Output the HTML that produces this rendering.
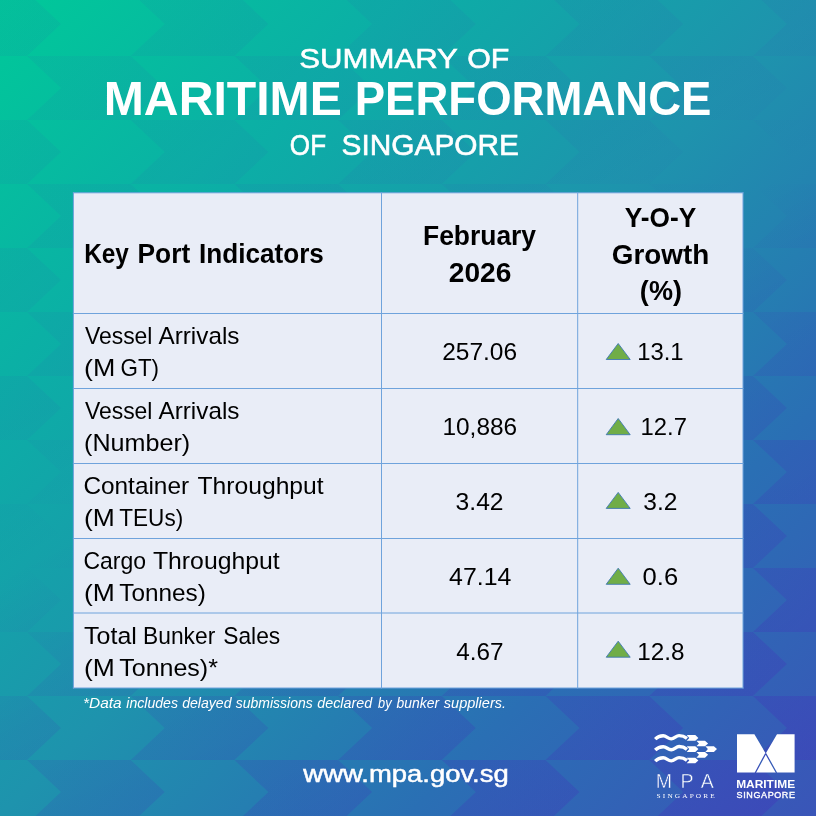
<!DOCTYPE html>
<html lang="en">
<head>
<meta charset="utf-8">
<title>Summary of Maritime Performance of Singapore</title>
<style>
html,body{margin:0;padding:0;background:#1C8FAE;}
body{width:816px;height:816px;overflow:hidden;font-family:"Liberation Sans",sans-serif;}
svg{display:block;}
text{white-space:pre;}
</style>
</head>
<body>
<svg width="816" height="816" viewBox="0 0 816 816">
<defs>
<linearGradient id="bg" gradientUnits="userSpaceOnUse" x1="0" y1="0" x2="816" y2="816">
<stop offset="0" stop-color="#00C999"/>
<stop offset="0.25" stop-color="#0CAEA6"/>
<stop offset="0.5" stop-color="#1E93AD"/>
<stop offset="0.75" stop-color="#2A6FB4"/>
<stop offset="1" stop-color="#3A55B8"/>
</linearGradient>
<linearGradient id="ovA" gradientUnits="userSpaceOnUse" x1="0" y1="0" x2="505" y2="976.8">
<stop offset="0" stop-color="#5000BE" stop-opacity="0.045"/>
<stop offset="0.35" stop-color="#5000BE" stop-opacity="0.04"/>
<stop offset="0.465" stop-color="#5000BE" stop-opacity="0"/>
<stop offset="1" stop-color="#5000BE" stop-opacity="0"/>
</linearGradient>
<linearGradient id="ovB" gradientUnits="userSpaceOnUse" x1="0" y1="0" x2="505" y2="976.8">
<stop offset="0" stop-color="#5000BE" stop-opacity="0"/>
<stop offset="0.465" stop-color="#5000BE" stop-opacity="0"/>
<stop offset="0.6" stop-color="#5000BE" stop-opacity="0.08"/>
<stop offset="0.75" stop-color="#5000BE" stop-opacity="0.125"/>
<stop offset="1" stop-color="#5000BE" stop-opacity="0.16"/>
</linearGradient>
<mask id="mcut" maskUnits="userSpaceOnUse" x="730" y="730" width="70" height="50">
<rect x="730" y="730" width="70" height="50" fill="#fff"/>
<path d="M765.7,753.5 L755.2,773 M765.7,753.5 L776.6,773" stroke="#000" stroke-width="1.3" fill="none"/>
</mask>
</defs>
<rect width="816" height="816" fill="url(#bg)"/>
<g fill="url(#ovA)">
<polygon points="27.0,-8.0 61.0,24.0 27.0,56.0 -76.7,56.0 -42.7,24.0 -76.7,-8.0"/>
<polygon points="234.4,-8.0 268.4,24.0 234.4,56.0 130.7,56.0 164.7,24.0 130.7,-8.0"/>
<polygon points="441.8,-8.0 475.8,24.0 441.8,56.0 338.1,56.0 372.1,24.0 338.1,-8.0"/>
<polygon points="649.2,-8.0 683.2,24.0 649.2,56.0 545.5,56.0 579.5,24.0 545.5,-8.0"/>
<polygon points="856.6,-8.0 890.6,24.0 856.6,56.0 752.9,56.0 786.9,24.0 752.9,-8.0"/>
<polygon points="-76.7,56.0 -42.7,88.0 -76.7,120.0 -180.4,120.0 -146.4,88.0 -180.4,56.0"/>
<polygon points="130.7,56.0 164.7,88.0 130.7,120.0 27.0,120.0 61.0,88.0 27.0,56.0"/>
<polygon points="338.1,56.0 372.1,88.0 338.1,120.0 234.4,120.0 268.4,88.0 234.4,56.0"/>
<polygon points="545.5,56.0 579.5,88.0 545.5,120.0 441.8,120.0 475.8,88.0 441.8,56.0"/>
<polygon points="752.9,56.0 786.9,88.0 752.9,120.0 649.2,120.0 683.2,88.0 649.2,56.0"/>
<polygon points="960.3,56.0 994.3,88.0 960.3,120.0 856.6,120.0 890.6,88.0 856.6,56.0"/>
<polygon points="27.0,120.0 61.0,152.0 27.0,184.0 -76.7,184.0 -42.7,152.0 -76.7,120.0"/>
<polygon points="234.4,120.0 268.4,152.0 234.4,184.0 130.7,184.0 164.7,152.0 130.7,120.0"/>
<polygon points="441.8,120.0 475.8,152.0 441.8,184.0 338.1,184.0 372.1,152.0 338.1,120.0"/>
<polygon points="649.2,120.0 683.2,152.0 649.2,184.0 545.5,184.0 579.5,152.0 545.5,120.0"/>
<polygon points="856.6,120.0 890.6,152.0 856.6,184.0 752.9,184.0 786.9,152.0 752.9,120.0"/>
<polygon points="-76.7,184.0 -42.7,216.0 -76.7,248.0 -180.4,248.0 -146.4,216.0 -180.4,184.0"/>
<polygon points="130.7,184.0 164.7,216.0 130.7,248.0 27.0,248.0 61.0,216.0 27.0,184.0"/>
<polygon points="338.1,184.0 372.1,216.0 338.1,248.0 234.4,248.0 268.4,216.0 234.4,184.0"/>
<polygon points="545.5,184.0 579.5,216.0 545.5,248.0 441.8,248.0 475.8,216.0 441.8,184.0"/>
<polygon points="752.9,184.0 786.9,216.0 752.9,248.0 649.2,248.0 683.2,216.0 649.2,184.0"/>
<polygon points="960.3,184.0 994.3,216.0 960.3,248.0 856.6,248.0 890.6,216.0 856.6,184.0"/>
<polygon points="27.0,248.0 61.0,280.0 27.0,312.0 -76.7,312.0 -42.7,280.0 -76.7,248.0"/>
<polygon points="234.4,248.0 268.4,280.0 234.4,312.0 130.7,312.0 164.7,280.0 130.7,248.0"/>
<polygon points="441.8,248.0 475.8,280.0 441.8,312.0 338.1,312.0 372.1,280.0 338.1,248.0"/>
<polygon points="649.2,248.0 683.2,280.0 649.2,312.0 545.5,312.0 579.5,280.0 545.5,248.0"/>
<polygon points="856.6,248.0 890.6,280.0 856.6,312.0 752.9,312.0 786.9,280.0 752.9,248.0"/>
<polygon points="-76.7,312.0 -42.7,344.0 -76.7,376.0 -180.4,376.0 -146.4,344.0 -180.4,312.0"/>
<polygon points="130.7,312.0 164.7,344.0 130.7,376.0 27.0,376.0 61.0,344.0 27.0,312.0"/>
<polygon points="338.1,312.0 372.1,344.0 338.1,376.0 234.4,376.0 268.4,344.0 234.4,312.0"/>
<polygon points="545.5,312.0 579.5,344.0 545.5,376.0 441.8,376.0 475.8,344.0 441.8,312.0"/>
<polygon points="752.9,312.0 786.9,344.0 752.9,376.0 649.2,376.0 683.2,344.0 649.2,312.0"/>
<polygon points="960.3,312.0 994.3,344.0 960.3,376.0 856.6,376.0 890.6,344.0 856.6,312.0"/>
<polygon points="27.0,376.0 61.0,408.0 27.0,440.0 -76.7,440.0 -42.7,408.0 -76.7,376.0"/>
<polygon points="234.4,376.0 268.4,408.0 234.4,440.0 130.7,440.0 164.7,408.0 130.7,376.0"/>
<polygon points="441.8,376.0 475.8,408.0 441.8,440.0 338.1,440.0 372.1,408.0 338.1,376.0"/>
<polygon points="649.2,376.0 683.2,408.0 649.2,440.0 545.5,440.0 579.5,408.0 545.5,376.0"/>
<polygon points="856.6,376.0 890.6,408.0 856.6,440.0 752.9,440.0 786.9,408.0 752.9,376.0"/>
<polygon points="-76.7,440.0 -42.7,472.0 -76.7,504.0 -180.4,504.0 -146.4,472.0 -180.4,440.0"/>
<polygon points="130.7,440.0 164.7,472.0 130.7,504.0 27.0,504.0 61.0,472.0 27.0,440.0"/>
<polygon points="338.1,440.0 372.1,472.0 338.1,504.0 234.4,504.0 268.4,472.0 234.4,440.0"/>
<polygon points="545.5,440.0 579.5,472.0 545.5,504.0 441.8,504.0 475.8,472.0 441.8,440.0"/>
<polygon points="752.9,440.0 786.9,472.0 752.9,504.0 649.2,504.0 683.2,472.0 649.2,440.0"/>
<polygon points="960.3,440.0 994.3,472.0 960.3,504.0 856.6,504.0 890.6,472.0 856.6,440.0"/>
<polygon points="27.0,504.0 61.0,536.0 27.0,568.0 -76.7,568.0 -42.7,536.0 -76.7,504.0"/>
<polygon points="234.4,504.0 268.4,536.0 234.4,568.0 130.7,568.0 164.7,536.0 130.7,504.0"/>
<polygon points="441.8,504.0 475.8,536.0 441.8,568.0 338.1,568.0 372.1,536.0 338.1,504.0"/>
<polygon points="649.2,504.0 683.2,536.0 649.2,568.0 545.5,568.0 579.5,536.0 545.5,504.0"/>
<polygon points="856.6,504.0 890.6,536.0 856.6,568.0 752.9,568.0 786.9,536.0 752.9,504.0"/>
<polygon points="-76.7,568.0 -42.7,600.0 -76.7,632.0 -180.4,632.0 -146.4,600.0 -180.4,568.0"/>
<polygon points="130.7,568.0 164.7,600.0 130.7,632.0 27.0,632.0 61.0,600.0 27.0,568.0"/>
<polygon points="338.1,568.0 372.1,600.0 338.1,632.0 234.4,632.0 268.4,600.0 234.4,568.0"/>
<polygon points="545.5,568.0 579.5,600.0 545.5,632.0 441.8,632.0 475.8,600.0 441.8,568.0"/>
<polygon points="752.9,568.0 786.9,600.0 752.9,632.0 649.2,632.0 683.2,600.0 649.2,568.0"/>
<polygon points="960.3,568.0 994.3,600.0 960.3,632.0 856.6,632.0 890.6,600.0 856.6,568.0"/>
<polygon points="27.0,632.0 61.0,664.0 27.0,696.0 -76.7,696.0 -42.7,664.0 -76.7,632.0"/>
<polygon points="234.4,632.0 268.4,664.0 234.4,696.0 130.7,696.0 164.7,664.0 130.7,632.0"/>
<polygon points="441.8,632.0 475.8,664.0 441.8,696.0 338.1,696.0 372.1,664.0 338.1,632.0"/>
<polygon points="649.2,632.0 683.2,664.0 649.2,696.0 545.5,696.0 579.5,664.0 545.5,632.0"/>
<polygon points="856.6,632.0 890.6,664.0 856.6,696.0 752.9,696.0 786.9,664.0 752.9,632.0"/>
<polygon points="-76.7,696.0 -42.7,728.0 -76.7,760.0 -180.4,760.0 -146.4,728.0 -180.4,696.0"/>
<polygon points="130.7,696.0 164.7,728.0 130.7,760.0 27.0,760.0 61.0,728.0 27.0,696.0"/>
<polygon points="338.1,696.0 372.1,728.0 338.1,760.0 234.4,760.0 268.4,728.0 234.4,696.0"/>
<polygon points="545.5,696.0 579.5,728.0 545.5,760.0 441.8,760.0 475.8,728.0 441.8,696.0"/>
<polygon points="752.9,696.0 786.9,728.0 752.9,760.0 649.2,760.0 683.2,728.0 649.2,696.0"/>
<polygon points="960.3,696.0 994.3,728.0 960.3,760.0 856.6,760.0 890.6,728.0 856.6,696.0"/>
<polygon points="27.0,760.0 61.0,792.0 27.0,824.0 -76.7,824.0 -42.7,792.0 -76.7,760.0"/>
<polygon points="234.4,760.0 268.4,792.0 234.4,824.0 130.7,824.0 164.7,792.0 130.7,760.0"/>
<polygon points="441.8,760.0 475.8,792.0 441.8,824.0 338.1,824.0 372.1,792.0 338.1,760.0"/>
<polygon points="649.2,760.0 683.2,792.0 649.2,824.0 545.5,824.0 579.5,792.0 545.5,760.0"/>
<polygon points="856.6,760.0 890.6,792.0 856.6,824.0 752.9,824.0 786.9,792.0 752.9,760.0"/>
<polygon points="-76.7,824.0 -42.7,856.0 -76.7,888.0 -180.4,888.0 -146.4,856.0 -180.4,824.0"/>
<polygon points="130.7,824.0 164.7,856.0 130.7,888.0 27.0,888.0 61.0,856.0 27.0,824.0"/>
<polygon points="338.1,824.0 372.1,856.0 338.1,888.0 234.4,888.0 268.4,856.0 234.4,824.0"/>
<polygon points="545.5,824.0 579.5,856.0 545.5,888.0 441.8,888.0 475.8,856.0 441.8,824.0"/>
<polygon points="752.9,824.0 786.9,856.0 752.9,888.0 649.2,888.0 683.2,856.0 649.2,824.0"/>
<polygon points="960.3,824.0 994.3,856.0 960.3,888.0 856.6,888.0 890.6,856.0 856.6,824.0"/>
</g>
<g fill="url(#ovB)">
<polygon points="-76.7,-8.0 -42.7,24.0 -76.7,56.0 -180.4,56.0 -146.4,24.0 -180.4,-8.0"/>
<polygon points="130.7,-8.0 164.7,24.0 130.7,56.0 27.0,56.0 61.0,24.0 27.0,-8.0"/>
<polygon points="338.1,-8.0 372.1,24.0 338.1,56.0 234.4,56.0 268.4,24.0 234.4,-8.0"/>
<polygon points="545.5,-8.0 579.5,24.0 545.5,56.0 441.8,56.0 475.8,24.0 441.8,-8.0"/>
<polygon points="752.9,-8.0 786.9,24.0 752.9,56.0 649.2,56.0 683.2,24.0 649.2,-8.0"/>
<polygon points="960.3,-8.0 994.3,24.0 960.3,56.0 856.6,56.0 890.6,24.0 856.6,-8.0"/>
<polygon points="27.0,56.0 61.0,88.0 27.0,120.0 -76.7,120.0 -42.7,88.0 -76.7,56.0"/>
<polygon points="234.4,56.0 268.4,88.0 234.4,120.0 130.7,120.0 164.7,88.0 130.7,56.0"/>
<polygon points="441.8,56.0 475.8,88.0 441.8,120.0 338.1,120.0 372.1,88.0 338.1,56.0"/>
<polygon points="649.2,56.0 683.2,88.0 649.2,120.0 545.5,120.0 579.5,88.0 545.5,56.0"/>
<polygon points="856.6,56.0 890.6,88.0 856.6,120.0 752.9,120.0 786.9,88.0 752.9,56.0"/>
<polygon points="-76.7,120.0 -42.7,152.0 -76.7,184.0 -180.4,184.0 -146.4,152.0 -180.4,120.0"/>
<polygon points="130.7,120.0 164.7,152.0 130.7,184.0 27.0,184.0 61.0,152.0 27.0,120.0"/>
<polygon points="338.1,120.0 372.1,152.0 338.1,184.0 234.4,184.0 268.4,152.0 234.4,120.0"/>
<polygon points="545.5,120.0 579.5,152.0 545.5,184.0 441.8,184.0 475.8,152.0 441.8,120.0"/>
<polygon points="752.9,120.0 786.9,152.0 752.9,184.0 649.2,184.0 683.2,152.0 649.2,120.0"/>
<polygon points="960.3,120.0 994.3,152.0 960.3,184.0 856.6,184.0 890.6,152.0 856.6,120.0"/>
<polygon points="27.0,184.0 61.0,216.0 27.0,248.0 -76.7,248.0 -42.7,216.0 -76.7,184.0"/>
<polygon points="234.4,184.0 268.4,216.0 234.4,248.0 130.7,248.0 164.7,216.0 130.7,184.0"/>
<polygon points="441.8,184.0 475.8,216.0 441.8,248.0 338.1,248.0 372.1,216.0 338.1,184.0"/>
<polygon points="649.2,184.0 683.2,216.0 649.2,248.0 545.5,248.0 579.5,216.0 545.5,184.0"/>
<polygon points="856.6,184.0 890.6,216.0 856.6,248.0 752.9,248.0 786.9,216.0 752.9,184.0"/>
<polygon points="-76.7,248.0 -42.7,280.0 -76.7,312.0 -180.4,312.0 -146.4,280.0 -180.4,248.0"/>
<polygon points="130.7,248.0 164.7,280.0 130.7,312.0 27.0,312.0 61.0,280.0 27.0,248.0"/>
<polygon points="338.1,248.0 372.1,280.0 338.1,312.0 234.4,312.0 268.4,280.0 234.4,248.0"/>
<polygon points="545.5,248.0 579.5,280.0 545.5,312.0 441.8,312.0 475.8,280.0 441.8,248.0"/>
<polygon points="752.9,248.0 786.9,280.0 752.9,312.0 649.2,312.0 683.2,280.0 649.2,248.0"/>
<polygon points="960.3,248.0 994.3,280.0 960.3,312.0 856.6,312.0 890.6,280.0 856.6,248.0"/>
<polygon points="27.0,312.0 61.0,344.0 27.0,376.0 -76.7,376.0 -42.7,344.0 -76.7,312.0"/>
<polygon points="234.4,312.0 268.4,344.0 234.4,376.0 130.7,376.0 164.7,344.0 130.7,312.0"/>
<polygon points="441.8,312.0 475.8,344.0 441.8,376.0 338.1,376.0 372.1,344.0 338.1,312.0"/>
<polygon points="649.2,312.0 683.2,344.0 649.2,376.0 545.5,376.0 579.5,344.0 545.5,312.0"/>
<polygon points="856.6,312.0 890.6,344.0 856.6,376.0 752.9,376.0 786.9,344.0 752.9,312.0"/>
<polygon points="-76.7,376.0 -42.7,408.0 -76.7,440.0 -180.4,440.0 -146.4,408.0 -180.4,376.0"/>
<polygon points="130.7,376.0 164.7,408.0 130.7,440.0 27.0,440.0 61.0,408.0 27.0,376.0"/>
<polygon points="338.1,376.0 372.1,408.0 338.1,440.0 234.4,440.0 268.4,408.0 234.4,376.0"/>
<polygon points="545.5,376.0 579.5,408.0 545.5,440.0 441.8,440.0 475.8,408.0 441.8,376.0"/>
<polygon points="752.9,376.0 786.9,408.0 752.9,440.0 649.2,440.0 683.2,408.0 649.2,376.0"/>
<polygon points="960.3,376.0 994.3,408.0 960.3,440.0 856.6,440.0 890.6,408.0 856.6,376.0"/>
<polygon points="27.0,440.0 61.0,472.0 27.0,504.0 -76.7,504.0 -42.7,472.0 -76.7,440.0"/>
<polygon points="234.4,440.0 268.4,472.0 234.4,504.0 130.7,504.0 164.7,472.0 130.7,440.0"/>
<polygon points="441.8,440.0 475.8,472.0 441.8,504.0 338.1,504.0 372.1,472.0 338.1,440.0"/>
<polygon points="649.2,440.0 683.2,472.0 649.2,504.0 545.5,504.0 579.5,472.0 545.5,440.0"/>
<polygon points="856.6,440.0 890.6,472.0 856.6,504.0 752.9,504.0 786.9,472.0 752.9,440.0"/>
<polygon points="-76.7,504.0 -42.7,536.0 -76.7,568.0 -180.4,568.0 -146.4,536.0 -180.4,504.0"/>
<polygon points="130.7,504.0 164.7,536.0 130.7,568.0 27.0,568.0 61.0,536.0 27.0,504.0"/>
<polygon points="338.1,504.0 372.1,536.0 338.1,568.0 234.4,568.0 268.4,536.0 234.4,504.0"/>
<polygon points="545.5,504.0 579.5,536.0 545.5,568.0 441.8,568.0 475.8,536.0 441.8,504.0"/>
<polygon points="752.9,504.0 786.9,536.0 752.9,568.0 649.2,568.0 683.2,536.0 649.2,504.0"/>
<polygon points="960.3,504.0 994.3,536.0 960.3,568.0 856.6,568.0 890.6,536.0 856.6,504.0"/>
<polygon points="27.0,568.0 61.0,600.0 27.0,632.0 -76.7,632.0 -42.7,600.0 -76.7,568.0"/>
<polygon points="234.4,568.0 268.4,600.0 234.4,632.0 130.7,632.0 164.7,600.0 130.7,568.0"/>
<polygon points="441.8,568.0 475.8,600.0 441.8,632.0 338.1,632.0 372.1,600.0 338.1,568.0"/>
<polygon points="649.2,568.0 683.2,600.0 649.2,632.0 545.5,632.0 579.5,600.0 545.5,568.0"/>
<polygon points="856.6,568.0 890.6,600.0 856.6,632.0 752.9,632.0 786.9,600.0 752.9,568.0"/>
<polygon points="-76.7,632.0 -42.7,664.0 -76.7,696.0 -180.4,696.0 -146.4,664.0 -180.4,632.0"/>
<polygon points="130.7,632.0 164.7,664.0 130.7,696.0 27.0,696.0 61.0,664.0 27.0,632.0"/>
<polygon points="338.1,632.0 372.1,664.0 338.1,696.0 234.4,696.0 268.4,664.0 234.4,632.0"/>
<polygon points="545.5,632.0 579.5,664.0 545.5,696.0 441.8,696.0 475.8,664.0 441.8,632.0"/>
<polygon points="752.9,632.0 786.9,664.0 752.9,696.0 649.2,696.0 683.2,664.0 649.2,632.0"/>
<polygon points="960.3,632.0 994.3,664.0 960.3,696.0 856.6,696.0 890.6,664.0 856.6,632.0"/>
<polygon points="27.0,696.0 61.0,728.0 27.0,760.0 -76.7,760.0 -42.7,728.0 -76.7,696.0"/>
<polygon points="234.4,696.0 268.4,728.0 234.4,760.0 130.7,760.0 164.7,728.0 130.7,696.0"/>
<polygon points="441.8,696.0 475.8,728.0 441.8,760.0 338.1,760.0 372.1,728.0 338.1,696.0"/>
<polygon points="649.2,696.0 683.2,728.0 649.2,760.0 545.5,760.0 579.5,728.0 545.5,696.0"/>
<polygon points="856.6,696.0 890.6,728.0 856.6,760.0 752.9,760.0 786.9,728.0 752.9,696.0"/>
<polygon points="-76.7,760.0 -42.7,792.0 -76.7,824.0 -180.4,824.0 -146.4,792.0 -180.4,760.0"/>
<polygon points="130.7,760.0 164.7,792.0 130.7,824.0 27.0,824.0 61.0,792.0 27.0,760.0"/>
<polygon points="338.1,760.0 372.1,792.0 338.1,824.0 234.4,824.0 268.4,792.0 234.4,760.0"/>
<polygon points="545.5,760.0 579.5,792.0 545.5,824.0 441.8,824.0 475.8,792.0 441.8,760.0"/>
<polygon points="752.9,760.0 786.9,792.0 752.9,824.0 649.2,824.0 683.2,792.0 649.2,760.0"/>
<polygon points="960.3,760.0 994.3,792.0 960.3,824.0 856.6,824.0 890.6,792.0 856.6,760.0"/>
<polygon points="27.0,824.0 61.0,856.0 27.0,888.0 -76.7,888.0 -42.7,856.0 -76.7,824.0"/>
<polygon points="234.4,824.0 268.4,856.0 234.4,888.0 130.7,888.0 164.7,856.0 130.7,824.0"/>
<polygon points="441.8,824.0 475.8,856.0 441.8,888.0 338.1,888.0 372.1,856.0 338.1,824.0"/>
<polygon points="649.2,824.0 683.2,856.0 649.2,888.0 545.5,888.0 579.5,856.0 545.5,824.0"/>
<polygon points="856.6,824.0 890.6,856.0 856.6,888.0 752.9,888.0 786.9,856.0 752.9,824.0"/>
</g>
<g id="table">
<rect x="73.4" y="192.8" width="669.6" height="495.2" fill="#E9EDF7"/>
<line x1="72.9" x2="743.5" y1="192.8" y2="192.8" stroke="#6FA3DC" stroke-width="1"/>
<line x1="72.9" x2="743.5" y1="313.5" y2="313.5" stroke="#6FA3DC" stroke-width="1"/>
<line x1="72.9" x2="743.5" y1="388.5" y2="388.5" stroke="#6FA3DC" stroke-width="1"/>
<line x1="72.9" x2="743.5" y1="463.5" y2="463.5" stroke="#6FA3DC" stroke-width="1"/>
<line x1="72.9" x2="743.5" y1="538.5" y2="538.5" stroke="#6FA3DC" stroke-width="1"/>
<line x1="72.9" x2="743.5" y1="613.0" y2="613.0" stroke="#6FA3DC" stroke-width="1"/>
<line x1="72.9" x2="743.5" y1="688.0" y2="688.0" stroke="#6FA3DC" stroke-width="1"/>
<line x1="73.4" x2="73.4" y1="192.3" y2="688.5" stroke="#6FA3DC" stroke-width="1"/>
<line x1="381.5" x2="381.5" y1="192.3" y2="688.5" stroke="#6FA3DC" stroke-width="1"/>
<line x1="577.7" x2="577.7" y1="192.3" y2="688.5" stroke="#6FA3DC" stroke-width="1"/>
<line x1="743.0" x2="743.0" y1="192.3" y2="688.5" stroke="#6FA3DC" stroke-width="1"/>
</g>
<g id="triangles">
<polygon points="606.2,359.5 630.2,359.5 618.2,343.5" fill="#70AD47" stroke="#3F78B4" stroke-width="0.9" stroke-linejoin="miter"/>
<polygon points="606.2,434.7 630.2,434.7 618.2,418.5" fill="#70AD47" stroke="#3F78B4" stroke-width="0.9" stroke-linejoin="miter"/>
<polygon points="606.2,508.4 630.2,508.4 618.2,492.4" fill="#70AD47" stroke="#3F78B4" stroke-width="0.9" stroke-linejoin="miter"/>
<polygon points="606.2,584.3 630.2,584.3 618.2,568.2" fill="#70AD47" stroke="#3F78B4" stroke-width="0.9" stroke-linejoin="miter"/>
<polygon points="606.2,657.2 630.2,657.2 618.2,641.2" fill="#70AD47" stroke="#3F78B4" stroke-width="0.9" stroke-linejoin="miter"/>
</g>
<g id="mpa-logo" fill="#fff">
<path d="M655.2,739.1 C657.5,736.8 660,735.8 663.2,735.8 C666.5,735.8 668,738.9 671.2,738.9 C674.5,738.9 676,735.6 679.1,735.6 C682,735.6 684.6,736.5 687,738.4" fill="none" stroke="#fff" stroke-width="3.4"/>
<path d="M655.2,750.0 C657.5,747.7 660,746.7 663.2,746.7 C666.5,746.7 668,749.8 671.2,749.8 C674.5,749.8 676,746.5 679.1,746.5 C682,746.5 684.6,747.4 687,749.3" fill="none" stroke="#fff" stroke-width="3.4"/>
<path d="M655.2,761.1 C657.5,758.8 660,757.8 663.2,757.8 C666.5,757.8 668,760.9 671.2,760.9 C674.5,760.9 676,757.6 679.1,757.6 C682,757.6 684.6,758.5 687,760.4" fill="none" stroke="#fff" stroke-width="3.4"/>
<polygon points="686.70,735.10 695.30,735.10 698.40,737.95 695.30,740.80 686.70,740.80 689.30,737.95"/>
<polygon points="696.40,740.65 705.00,740.65 708.10,743.50 705.00,746.35 696.40,746.35 699.00,743.50"/>
<polygon points="686.70,746.25 695.30,746.25 698.40,749.10 695.30,751.95 686.70,751.95 689.30,749.10"/>
<polygon points="705.30,746.25 713.90,746.25 717.00,749.10 713.90,751.95 705.30,751.95 707.90,749.10"/>
<polygon points="696.40,751.95 705.00,751.95 708.10,754.80 705.00,757.65 696.40,757.65 699.00,754.80"/>
<polygon points="686.70,757.65 695.30,757.65 698.40,760.50 695.30,763.35 686.70,763.35 689.30,760.50"/>
</g>
<g id="maritime-logo">
<path d="M737,734.3 H754.4 L765.7,753.5 L777,734.3 H794.6 V772.6 H737 Z" fill="#fff" mask="url(#mcut)"/>
</g>
<g id="texts">
<text y="68.20" font-family='"Liberation Sans", sans-serif' font-size="28.49" fill="#fff" stroke="#fff" stroke-width="0.6"><tspan x="299.34" textLength="157.94" lengthAdjust="spacingAndGlyphs">SUMMARY</tspan> <tspan x="467.16" textLength="42.14" lengthAdjust="spacingAndGlyphs">OF</tspan></text>
<text y="115.40" font-family='"Liberation Sans", sans-serif' font-size="48.98" fill="#fff" font-weight="bold"><tspan x="103.76" textLength="238.07" lengthAdjust="spacingAndGlyphs">MARITIME</tspan> <tspan x="354.73" textLength="356.71" lengthAdjust="spacingAndGlyphs">PERFORMANCE</tspan></text>
<text y="154.70" font-family='"Liberation Sans", sans-serif' font-size="29.36" fill="#fff" stroke="#fff" stroke-width="0.6"><tspan x="289.86" textLength="36.20" lengthAdjust="spacingAndGlyphs">OF</tspan> <tspan x="341.57" textLength="177.40" lengthAdjust="spacingAndGlyphs">SINGAPORE</tspan></text>
<text y="263.40" font-family='"Liberation Sans", sans-serif' font-size="28.49" fill="#000" font-weight="bold"><tspan x="84.27" textLength="44.59" lengthAdjust="spacingAndGlyphs">Key</tspan> <tspan x="137.54" textLength="52.69" lengthAdjust="spacingAndGlyphs">Port</tspan> <tspan x="199.05" textLength="124.82" lengthAdjust="spacingAndGlyphs">Indicators</tspan></text>
<text x="423.03" y="245.20" font-family='"Liberation Sans", sans-serif' font-size="28.49" fill="#000" font-weight="bold" textLength="113.05" lengthAdjust="spacingAndGlyphs">February</text>
<text x="448.81" y="282.30" font-family='"Liberation Sans", sans-serif' font-size="28.49" fill="#000" font-weight="bold" textLength="62.59" lengthAdjust="spacingAndGlyphs">2026</text>
<text x="624.76" y="226.50" font-family='"Liberation Sans", sans-serif' font-size="28.49" fill="#000" font-weight="bold" textLength="71.51" lengthAdjust="spacingAndGlyphs">Y-O-Y</text>
<text x="611.79" y="263.60" font-family='"Liberation Sans", sans-serif' font-size="28.49" fill="#000" font-weight="bold" textLength="97.49" lengthAdjust="spacingAndGlyphs">Growth</text>
<text x="639.86" y="299.90" font-family='"Liberation Sans", sans-serif' font-size="28.49" fill="#000" font-weight="bold" textLength="42.12" lengthAdjust="spacingAndGlyphs">(%)</text>
<text y="343.50" font-family='"Liberation Sans", sans-serif' font-size="24.27" fill="#000"><tspan x="84.89" textLength="67.57" lengthAdjust="spacingAndGlyphs">Vessel</tspan> <tspan x="158.48" textLength="81.00" lengthAdjust="spacingAndGlyphs">Arrivals</tspan></text>
<text y="375.70" font-family='"Liberation Sans", sans-serif' font-size="24.27" fill="#000"><tspan x="84.00" textLength="31.30" lengthAdjust="spacingAndGlyphs">(M</tspan> <tspan x="120.53" textLength="38.56" lengthAdjust="spacingAndGlyphs">GT)</tspan></text>
<text y="418.50" font-family='"Liberation Sans", sans-serif' font-size="24.27" fill="#000"><tspan x="84.89" textLength="67.57" lengthAdjust="spacingAndGlyphs">Vessel</tspan> <tspan x="158.48" textLength="81.00" lengthAdjust="spacingAndGlyphs">Arrivals</tspan></text>
<text x="84.11" y="450.70" font-family='"Liberation Sans", sans-serif' font-size="24.27" fill="#000" textLength="106.11" lengthAdjust="spacingAndGlyphs">(Number)</text>
<text y="493.50" font-family='"Liberation Sans", sans-serif' font-size="24.27" fill="#000"><tspan x="83.41" textLength="105.70" lengthAdjust="spacingAndGlyphs">Container</tspan> <tspan x="197.44" textLength="126.23" lengthAdjust="spacingAndGlyphs">Throughput</tspan></text>
<text y="525.70" font-family='"Liberation Sans", sans-serif' font-size="24.27" fill="#000"><tspan x="84.02" textLength="30.84" lengthAdjust="spacingAndGlyphs">(M</tspan> <tspan x="119.29" textLength="63.88" lengthAdjust="spacingAndGlyphs">TEUs)</tspan></text>
<text y="568.50" font-family='"Liberation Sans", sans-serif' font-size="24.27" fill="#000"><tspan x="83.49" textLength="62.62" lengthAdjust="spacingAndGlyphs">Cargo</tspan> <tspan x="152.94" textLength="126.74" lengthAdjust="spacingAndGlyphs">Throughput</tspan></text>
<text y="600.70" font-family='"Liberation Sans", sans-serif' font-size="24.27" fill="#000"><tspan x="84.02" textLength="30.84" lengthAdjust="spacingAndGlyphs">(M</tspan> <tspan x="119.25" textLength="86.53" lengthAdjust="spacingAndGlyphs">Tonnes)</tspan></text>
<text y="643.50" font-family='"Liberation Sans", sans-serif' font-size="24.27" fill="#000"><tspan x="84.13" textLength="52.79" lengthAdjust="spacingAndGlyphs">Total</tspan> <tspan x="143.12" textLength="72.12" lengthAdjust="spacingAndGlyphs">Bunker</tspan> <tspan x="223.22" textLength="56.96" lengthAdjust="spacingAndGlyphs">Sales</tspan></text>
<text y="675.70" font-family='"Liberation Sans", sans-serif' font-size="24.27" fill="#000"><tspan x="84.02" textLength="30.84" lengthAdjust="spacingAndGlyphs">(M</tspan> <tspan x="119.23" textLength="98.73" lengthAdjust="spacingAndGlyphs">Tonnes)*</tspan></text>
<text x="442.15" y="360.30" font-family='"Liberation Sans", sans-serif' font-size="23.69" fill="#000" textLength="74.91" lengthAdjust="spacingAndGlyphs">257.06</text>
<text x="442.45" y="435.30" font-family='"Liberation Sans", sans-serif' font-size="23.69" fill="#000" textLength="74.71" lengthAdjust="spacingAndGlyphs">10,886</text>
<text x="455.63" y="510.30" font-family='"Liberation Sans", sans-serif' font-size="23.69" fill="#000" textLength="47.94" lengthAdjust="spacingAndGlyphs">3.42</text>
<text x="449.12" y="585.30" font-family='"Liberation Sans", sans-serif' font-size="23.69" fill="#000" textLength="62.23" lengthAdjust="spacingAndGlyphs">47.14</text>
<text x="456.33" y="660.30" font-family='"Liberation Sans", sans-serif' font-size="23.69" fill="#000" textLength="47.22" lengthAdjust="spacingAndGlyphs">4.67</text>
<text x="637.19" y="360.30" font-family='"Liberation Sans", sans-serif' font-size="23.69" fill="#000" textLength="46.43" lengthAdjust="spacingAndGlyphs">13.1</text>
<text x="640.59" y="435.30" font-family='"Liberation Sans", sans-serif' font-size="23.69" fill="#000" textLength="46.34" lengthAdjust="spacingAndGlyphs">12.7</text>
<text x="643.24" y="510.30" font-family='"Liberation Sans", sans-serif' font-size="23.69" fill="#000" textLength="34.13" lengthAdjust="spacingAndGlyphs">3.2</text>
<text x="642.62" y="585.30" font-family='"Liberation Sans", sans-serif' font-size="23.69" fill="#000" textLength="35.59" lengthAdjust="spacingAndGlyphs">0.6</text>
<text x="637.16" y="660.30" font-family='"Liberation Sans", sans-serif' font-size="23.69" fill="#000" textLength="47.28" lengthAdjust="spacingAndGlyphs">12.8</text>
<text y="708.00" font-family='"Liberation Sans", sans-serif' font-size="14.68" fill="#fff" font-style="italic"><tspan x="83.11" textLength="38.52" lengthAdjust="spacingAndGlyphs">*Data</tspan> <tspan x="126.27" textLength="51.73" lengthAdjust="spacingAndGlyphs">includes</tspan> <tspan x="182.18" textLength="49.36" lengthAdjust="spacingAndGlyphs">delayed</tspan> <tspan x="235.74" textLength="77.05" lengthAdjust="spacingAndGlyphs">submissions</tspan> <tspan x="317.27" textLength="54.87" lengthAdjust="spacingAndGlyphs">declared</tspan> <tspan x="378.09" textLength="13.50" lengthAdjust="spacingAndGlyphs">by</tspan> <tspan x="396.46" textLength="42.59" lengthAdjust="spacingAndGlyphs">bunker</tspan> <tspan x="443.83" textLength="62.26" lengthAdjust="spacingAndGlyphs">suppliers.</tspan></text>
<text x="303.38" y="781.80" font-family='"Liberation Sans", sans-serif' font-size="23.69" fill="#fff" stroke="#fff" stroke-width="0.5" textLength="205.32" lengthAdjust="spacingAndGlyphs">www.mpa.gov.sg</text>
<text x="655.82" y="788.00" font-family='"Liberation Sans", sans-serif' font-size="19.48" fill="#fff" letter-spacing="8.5" stroke="#3758B8" stroke-width="0.45" textLength="66.47" lengthAdjust="spacingAndGlyphs">MPA</text>
<text x="656.61" y="798.00" font-family='"Liberation Serif", serif' font-size="6.87" fill="#fff" letter-spacing="2" textLength="60.29" lengthAdjust="spacingAndGlyphs">SINGAPORE</text>
<text x="736.20" y="788.00" font-family='"Liberation Sans", sans-serif' font-size="11.63" fill="#fff" font-weight="bold" textLength="58.90" lengthAdjust="spacingAndGlyphs">MARITIME</text>
<text x="736.59" y="798.00" font-family='"Liberation Sans", sans-serif' font-size="9.01" fill="#fff" letter-spacing="0.6" stroke="#fff" stroke-width="0.35" textLength="59.00" lengthAdjust="spacingAndGlyphs">SINGAPORE</text>
</g>
</svg>
</body>
</html>
